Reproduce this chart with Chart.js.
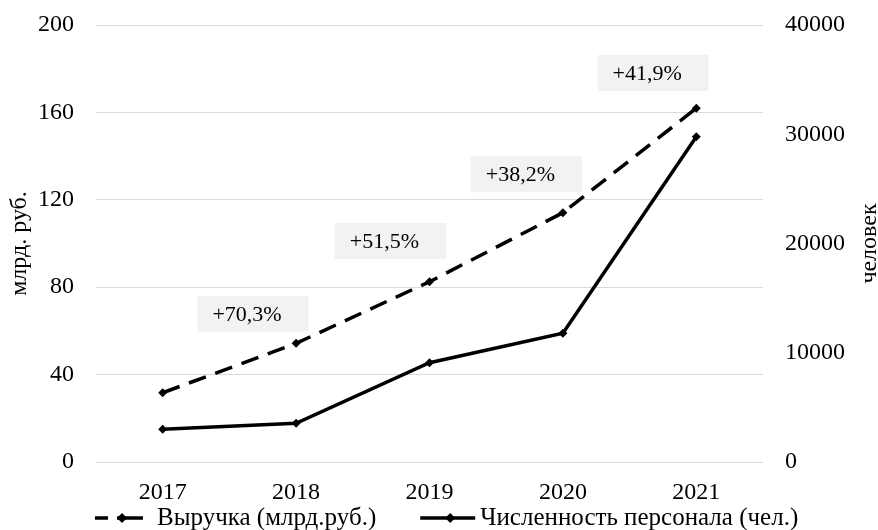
<!DOCTYPE html>
<html>
<head>
<meta charset="utf-8">
<script src="https://cdn.jsdelivr.net/npm/chart.js@4.4.1/dist/chart.umd.min.js"></script>
<style>
  html, body { margin: 0; padding: 0; background: #fff; }
  #wrap { width: 878px; height: 530px; }
</style>
</head>
<body>
<div id="wrap"><canvas id="chart"></canvas></div>
<script>
// данные с графика
const years = ["2017", "2018", "2019", "2020", "2021"]
const revenue = [31.7, 54.3, 82.5, 114.1, 161.9]
const staff = [3000, 3540, 9090, 11780, 29780]
const growthLabels = ["+70,3%", "+51,5%", "+38,2%", "+41,9%"]
const leftTicks = [0, 40, 80, 120, 160, 200]
const rightTicks = [0, 10000, 20000, 30000, 40000]

const FONT = "'Liberation Serif', 'Times New Roman', serif"

// где стоят плашки с приростом: индекс категории и верх плашки в млрд. руб.
const growthBoxes = [
  { at: 0.26, top: 76 },
  { at: 1.29, top: 109.4 },
  { at: 2.31, top: 140 },
  { at: 3.26, top: 186.3 },
]

const growthPlugin = {
  id: "growth",
  beforeDatasetsDraw(chart) {
    const ctx = chart.ctx
    const x = chart.scales.x
    const y = chart.scales.y
    const step = x.getPixelForValue(1) - x.getPixelForValue(0)
    ctx.save()
    ctx.font = "22px " + FONT
    ctx.textBaseline = "middle"
    growthBoxes.forEach((b, i) => {
      const left = x.getPixelForValue(Math.floor(b.at)) + (b.at % 1) * step
      const top = y.getPixelForValue(b.top)
      ctx.fillStyle = "#f2f2f2"
      ctx.fillRect(left, top, 111, 36)
      ctx.fillStyle = "#000"
      ctx.fillText(growthLabels[i], left + 15, top + 19)
    })
    ctx.restore()
  },
}

// подпись правой оси: в Excel она повернута как левая (снизу вверх)
const rightTitlePlugin = {
  id: "rightTitle",
  afterDraw(chart) {
    const ctx = chart.ctx
    const a = chart.chartArea
    ctx.save()
    ctx.translate(chart.width - 2, (a.top + a.bottom) / 2)
    ctx.rotate(-Math.PI / 2)
    ctx.font = "24px " + FONT
    ctx.fillStyle = "#000"
    ctx.textAlign = "center"
    ctx.textBaseline = "alphabetic"
    ctx.fillText("человек", 0, 0)
    ctx.restore()
  },
}

// легенда снизу: линия + ромб, как в Excel
const legendPlugin = {
  id: "bottomLegend",
  afterDraw(chart) {
    const ctx = chart.ctx
    const cy = 518
    ctx.save()
    ctx.font = "25px " + FONT
    ctx.textBaseline = "middle"
    ctx.fillStyle = "#000"
    ctx.strokeStyle = "#000"
    ctx.lineWidth = 3.5

    function diamond(cx) {
      ctx.beginPath()
      ctx.moveTo(cx, cy - 5)
      ctx.lineTo(cx + 5, cy)
      ctx.lineTo(cx, cy + 5)
      ctx.lineTo(cx - 5, cy)
      ctx.closePath()
      ctx.fill()
    }

    // первый элемент (пунктир)
    const x0 = 95
    ctx.beginPath()
    ctx.moveTo(x0, cy); ctx.lineTo(x0 + 13, cy)
    ctx.moveTo(x0 + 22, cy); ctx.lineTo(x0 + 48, cy)
    ctx.stroke()
    diamond(x0 + 27)
    const t1 = chart.data.datasets[0].label
    ctx.fillText(t1, x0 + 62, cy)

    // второй элемент (сплошная)
    const x1 = x0 + 62 + ctx.measureText(t1).width + 44
    ctx.beginPath()
    ctx.moveTo(x1, cy); ctx.lineTo(x1 + 55, cy)
    ctx.stroke()
    diamond(x1 + 30)
    ctx.fillText(chart.data.datasets[1].label, x1 + 60, cy)
    ctx.restore()
  },
}

// убираем лишний отступ сверху от подписей делений
function noPad(s, w) {
  s.width = w
  s.paddingTop = 0
  s.paddingBottom = 0
}

new Chart(document.getElementById("chart"), {
  type: "line",
  data: {
    labels: years,
    datasets: [
      {
        label: "Выручка (млрд.руб.)",
        data: revenue,
        yAxisID: "y",
        borderColor: "#000",
        backgroundColor: "#000",
        borderWidth: 3.5,
        borderDash: [18, 10],
        pointStyle: "rectRot",
        pointRadius: 4.5,
        pointBackgroundColor: "#000",
        pointBorderWidth: 0,
        tension: 0,
      },
      {
        label: "Численность персонала (чел.)",
        data: staff,
        yAxisID: "y1",
        borderColor: "#000",
        backgroundColor: "#000",
        borderWidth: 3.5,
        pointStyle: "rectRot",
        pointRadius: 4.5,
        pointBackgroundColor: "#000",
        pointBorderWidth: 0,
        tension: 0,
      },
    ],
  },
  options: {
    responsive: true,
    maintainAspectRatio: false,
    animation: false,
    layout: { padding: { top: 25, bottom: 0, left: 0, right: 0 } },
    plugins: {
      legend: { display: false },
      tooltip: { enabled: false },
    },
    scales: {
      x: {
        offset: true,
        grid: { display: false },
        border: { display: false },
        ticks: { color: "#000", font: { family: FONT, size: 24 }, padding: 8, maxRotation: 0 },
        afterFit: (s) => { s.height = 68 },
      },
      y: {
        position: "left",
        min: 0,
        max: 200,
        afterBuildTicks: (s) => { s.ticks = leftTicks.map((v) => ({ value: v })) },
        grid: { color: "#d9d9d9", lineWidth: 1, drawTicks: false },
        border: { display: false },
        ticks: { color: "#000", font: { family: FONT, size: 24 }, padding: 22 },
        title: { display: true, text: "млрд. руб.", color: "#000", font: { family: FONT, size: 24 }, padding: { top: 5, bottom: 0 } },
        afterFit: (s) => noPad(s, 96),
      },
      y1: {
        position: "right",
        min: 0,
        max: 40000,
        afterBuildTicks: (s) => { s.ticks = rightTicks.map((v) => ({ value: v })) },
        grid: { display: false, drawTicks: false },
        border: { display: false },
        ticks: { color: "#000", font: { family: FONT, size: 24 }, padding: 22, callback: (v) => String(v) },
        afterFit: (s) => noPad(s, 115),
      },
    },
  },
  plugins: [growthPlugin, rightTitlePlugin, legendPlugin],
})
</script>
</body>
</html>
